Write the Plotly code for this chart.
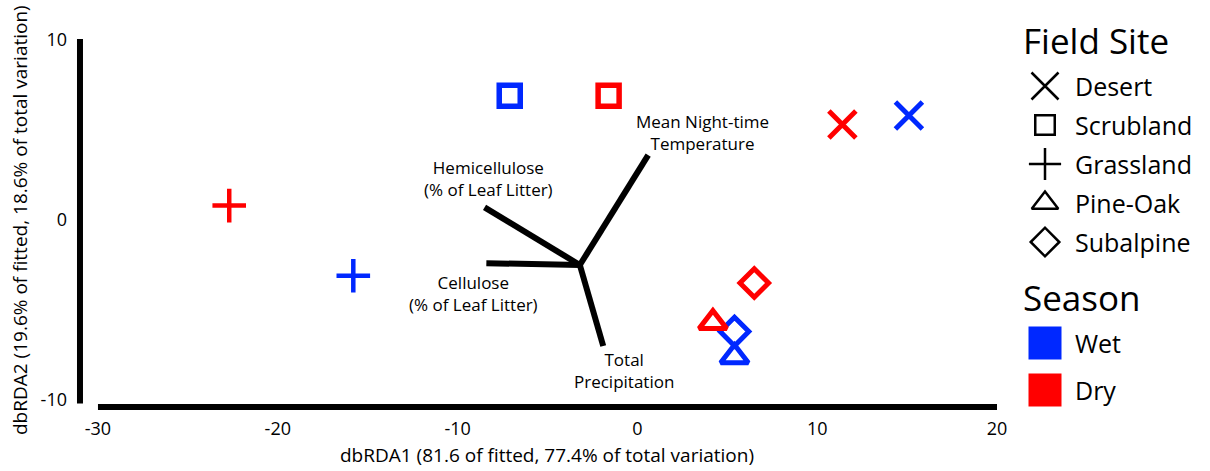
import plotly.graph_objects as go

# ---- sample scores on the first two dbRDA axes ----
site = ["Desert", "Desert", "Scrubland", "Scrubland", "Grassland", "Grassland",
        "Pine-Oak", "Pine-Oak", "Subalpine", "Subalpine"]
season = ["Wet", "Dry", "Wet", "Dry", "Wet", "Dry", "Wet", "Dry", "Wet", "Dry"]
rda1 = [15.1, 11.4, -7.1, -1.6, -15.8, -22.7, 5.4, 4.2, 5.4, 6.5]
rda2 = [5.8, 5.3, 6.9, 6.9, -3.1, 0.8, -7.6, -5.7, -6.2, -3.5]

# ---- environmental vectors ----
vec_origin = (-3.2, -2.5)
vec_names = ["Mean Night-time<br>Temperature", "Hemicellulose<br>(% of Leaf Litter)",
             "Cellulose<br>(% of Leaf Litter)", "Total<br>Precipitation"]
vec_x = [0.6, -8.5, -8.4, -1.9]
vec_y = [3.6, 0.7, -2.4, -7.0]
vec_label_x = [3.6, -8.3, -9.1, -0.75]
vec_label_y = [4.85, 2.3, -4.1, -8.35]

# ---- axes ----
x_ticks = [-30, -20, -10, 0, 10, 20]
x_ticktext = ["-30", "-20", "-10", "0", "10", "20"]
y_ticks = [-10, 0, 10]
y_ticktext = ["-10", "0", "10"]
x_title = "dbRDA1 (81.6 of fitted, 77.4% of total variation)"
y_title = "dbRDA2 (19.6% of fitted, 18.6% of total variation)"

sites = ["Desert", "Scrubland", "Grassland", "Pine-Oak", "Subalpine"]
seasons = ["Wet", "Dry"]

FONT = "Open Sans"
season_color = {"Wet": "#0028FF", "Dry": "#FF0000"}
site_symbol = {"Desert": "x-thin-open", "Scrubland": "square-open",
               "Grassland": "cross-thin-open", "Pine-Oak": "triangle-up-open",
               "Subalpine": "diamond-open"}
site_size = {"Desert": 27, "Scrubland": 21, "Grassland": 24, "Pine-Oak": 24, "Subalpine": 22}
site_lw = {"Desert": 5, "Scrubland": 5.5, "Grassland": 4.5, "Pine-Oak": 5, "Subalpine": 5}
key_size = {"Desert": 27, "Scrubland": 19.5, "Grassland": 23, "Pine-Oak": 23, "Subalpine": 22}


def txt(size):
    return dict(family=FONT, size=size, color="black")


W, H = 1210, 471
# plot-area geometry in pixels
px_left, px_right = 71.0, 1002.4
py_top, py_bottom = 36.4, 410.8
x_range = [-31.5, 20.3]
y_range = [-10.6, 10.2]

fig = go.Figure()

# vectors from a common origin
vx, vy = [], []
for ex, ey in zip(vec_x, vec_y):
    vx += [vec_origin[0], ex, None]
    vy += [vec_origin[1], ey, None]
fig.add_trace(go.Scatter(x=vx, y=vy, mode="lines", line=dict(color="black", width=6),
                         hoverinfo="skip", showlegend=False))

for i, name in enumerate(vec_names):
    fig.add_annotation(x=vec_label_x[i], y=vec_label_y[i], xref="x", yref="y",
                       text=name, showarrow=False, font=txt(17), align="center")

# sample points, one trace per season
for s in seasons:
    idx = [i for i, v in enumerate(season) if v == s]
    fig.add_trace(go.Scatter(
        x=[rda1[i] for i in idx], y=[rda2[i] for i in idx], mode="markers",
        marker=dict(symbol=[site_symbol[site[i]] for i in idx],
                    size=[site_size[site[i]] for i in idx],
                    color=season_color[s], opacity=1,
                    line=dict(color=season_color[s], width=[site_lw[site[i]] for i in idx])),
        name=s, showlegend=False))

# range-frame axis lines
fig.add_shape(type="line", xref="x", yref="y", x0=-31.0, x1=-31.0, y0=10.05, y1=-10.2,
              line=dict(color="black", width=6))
fig.add_shape(type="line", xref="x", yref="y", x0=-30, x1=20, y0=-10.39, y1=-10.39,
              line=dict(color="black", width=6))

# axis titles
fig.add_annotation(x=(x_ticks[0] + x_ticks[-1]) / 2, y=(H - 455) / H, xref="x", yref="paper",
                   yanchor="middle", text=x_title, showarrow=False, font=txt(19))
fig.add_annotation(x=20 / W, y=0, xref="paper", yref="y", xanchor="center", yanchor="middle",
                   text=y_title, textangle=-90, showarrow=False, font=txt(19))

# ---- legend panel (pixel-unit axis on the right) ----
leg_x0 = 1010
key_cx = 1045
text_x = 1073
site_row0, site_step = 86, 39
season_row0, season_step = 343, 47

fig.add_trace(go.Scatter(
    x=[key_cx] * len(sites),
    y=[site_row0 + k * site_step for k in range(len(sites))],
    mode="markers", xaxis="x2", yaxis="y2", showlegend=False, hoverinfo="skip",
    marker=dict(symbol=[site_symbol[s] for s in sites],
                size=[key_size[s] for s in sites], opacity=1,
                color="black", line=dict(color="black", width=2.5))))
fig.add_trace(go.Scatter(
    x=[key_cx] * len(seasons),
    y=[season_row0 + k * season_step for k in range(len(seasons))],
    mode="markers", xaxis="x2", yaxis="y2", showlegend=False, hoverinfo="skip",
    marker=dict(symbol="square", size=33, opacity=1,
                color=[season_color[s] for s in seasons], line=dict(width=0))))

fig.add_annotation(x=1021, y=40, xref="x2", yref="y2", text="Field Site", showarrow=False,
                   xanchor="left", yanchor="middle", font=txt(35))
for k, s in enumerate(sites):
    fig.add_annotation(x=text_x, y=site_row0 + k * site_step, xref="x2", yref="y2", text=s,
                       showarrow=False, xanchor="left", yanchor="middle", font=txt(25))
fig.add_annotation(x=1021, y=297, xref="x2", yref="y2", text="Season", showarrow=False,
                   xanchor="left", yanchor="middle", font=txt(35))
for k, s in enumerate(seasons):
    fig.add_annotation(x=text_x, y=season_row0 + k * season_step, xref="x2", yref="y2", text=s,
                       showarrow=False, xanchor="left", yanchor="middle", font=txt(25))

fig.update_layout(
    template="none",
    width=W, height=H,
    autosize=False,
    margin=dict(l=0, r=0, t=0, b=0, pad=0, autoexpand=False),
    paper_bgcolor="white", plot_bgcolor="white",
    font=txt(18),
    showlegend=False,
    xaxis=dict(domain=[px_left / W, px_right / W], range=x_range, automargin=False,
               tickvals=x_ticks, ticktext=x_ticktext,
               showgrid=False, zeroline=False, showline=False, ticks="",
               tickfont=txt(18), ticklabelstandoff=5),
    yaxis=dict(domain=[(H - py_bottom) / H, (H - py_top) / H], range=y_range, automargin=False,
               tickvals=y_ticks, ticktext=y_ticktext,
               showgrid=False, zeroline=False, showline=False, ticks="",
               tickfont=txt(18), ticklabelstandoff=3),
    xaxis2=dict(domain=[leg_x0 / W, 1], range=[leg_x0, W], visible=False, anchor="y2",
                automargin=False),
    yaxis2=dict(domain=[0, 1], range=[H, 0], visible=False, anchor="x2", automargin=False),
)

fig.write_html("out.html")
